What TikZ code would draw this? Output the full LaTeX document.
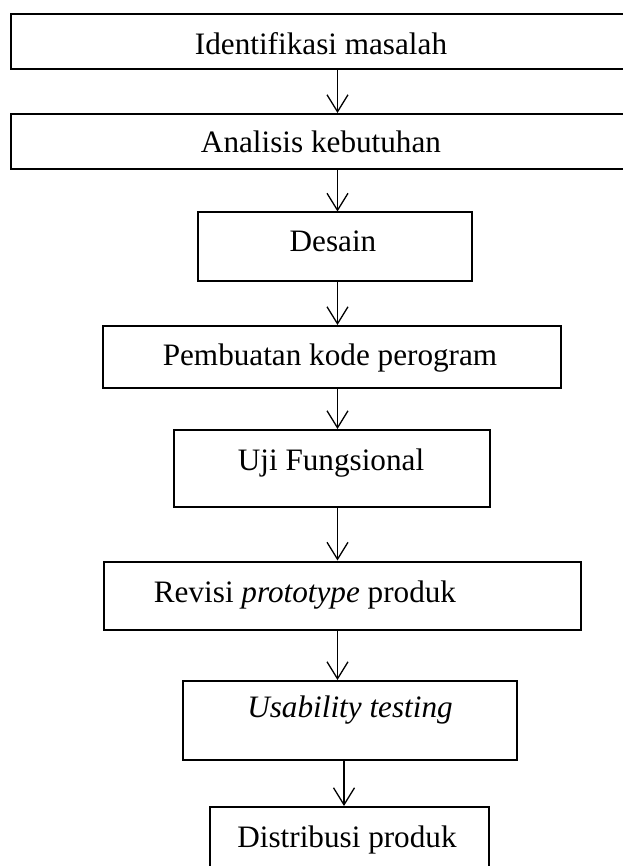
\documentclass[tikz,border=0pt]{standalone}
\usepackage{fontspec}
\setmainfont{Liberation Serif}
\usetikzlibrary{arrows.meta}
\begin{document}
\begin{tikzpicture}[x=1pt,y=-1pt,
  box/.style={draw, line width=2pt, inner sep=0pt, anchor=north west},
  txt/.style={anchor=base, inner sep=0pt, font=\fontsize{31.2}{37}\selectfont},
  arr/.style={line width=1.3pt, -{Straight Barb[length=17pt,width=21pt]}}]
\useasboundingbox (0,0) rectangle (622,866);
% boxes
\node[box, minimum width=650pt, minimum height=55pt]   (b1) at (9.5,13) {};
\node[box, minimum width=650pt, minimum height=55pt]   (b2) at (9.5,113) {};
\node[box, minimum width=274pt, minimum height=68.5pt] (b3) at (197,211.5) {};
\node[box, minimum width=458pt, minimum height=62pt]   (b4) at (102,325) {};
\node[box, minimum width=316pt, minimum height=76.5pt] (b5) at (173,429) {};
\node[box, minimum width=477.5pt, minimum height=68.5pt] (b6) at (102.5,560.5) {};
\node[box, minimum width=334pt, minimum height=79pt]   (b7) at (182,680) {};
\node[box, minimum width=279pt, minimum height=94pt]   (b8) at (209,806) {};
% texts
\node[txt] (t1) at (321,55) {Identifikasi masalah};
\node[txt] (t2) at (321,153) {Analisis kebutuhan};
\node[txt] (t3) at (333,252) {Desain};
\node[txt] (t4) at (330,365) {Pembuatan kode perogram};
\node[txt] (t5) at (331,470) {Uji Fungsional};
\node[txt] (t6) at (305,602) {Revisi \textit{prototype} produk};
\node[txt] (t7) at (350,717) {\textit{Usability testing}};
\node[txt] (t8) at (347,847) {Distribusi produk};
% arrow columns
\coordinate (xa) at (337.5,0);
\coordinate (xb) at (344,0);
\draw[arr] (b1.south -| xa) -- (b2.north -| xa);
\draw[arr] (b2.south -| xa) -- (b3.north -| xa);
\draw[arr] (b3.south -| xa) -- (b4.north -| xa);
\draw[arr] (b4.south -| xa) -- (b5.north -| xa);
\draw[arr] (b5.south -| xa) -- (b6.north -| xa);
\draw[arr] (b6.south -| xa) -- (b7.north -| xa);
\draw[arr] (b7.south -| xb) -- (b8.north -| xb);
\end{tikzpicture}
\end{document}
